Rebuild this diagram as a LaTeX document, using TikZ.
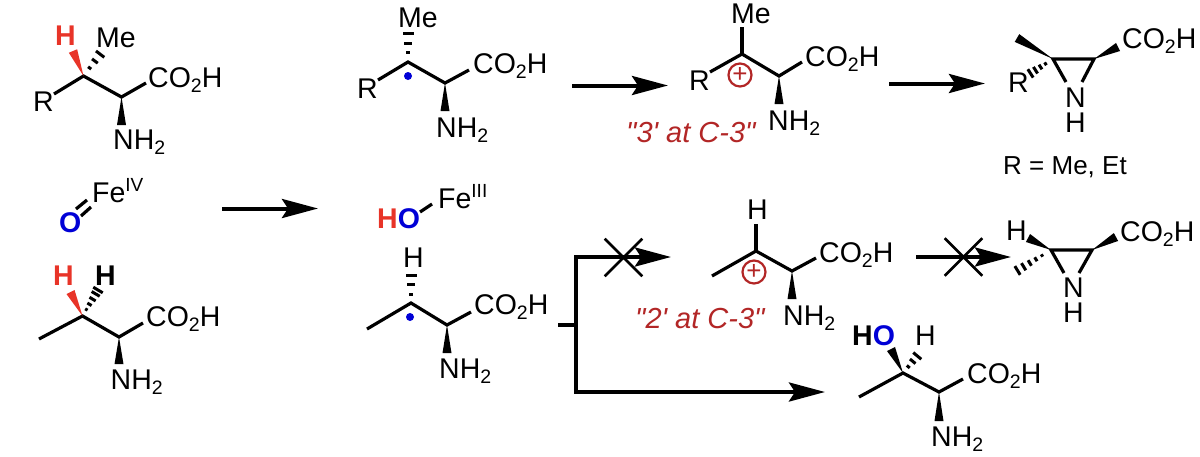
\documentclass[tikz,border=0pt]{standalone}
\usepackage{fontspec}
\setmainfont{Liberation Sans}
\newfontfamily\catfont{Liberation Sans}
\usetikzlibrary{arrows.meta,calc,shapes.misc}
\definecolor{hred}{RGB}{232,52,40}
\definecolor{oblue}{RGB}{0,0,214}
\definecolor{catred}{RGB}{178,38,38}
\newcommand{\lowt}[1]{\raisebox{-5.5pt}{\fontsize{19.5}{20}\selectfont #1}}
\newcommand{\upt}[1]{\raisebox{11pt}{\fontsize{19}{19}\selectfont #1}}
\newcommand{\cooh}{CO\lowt{2}H}
\newcommand{\nhh}{NH\lowt{2}}
\newcommand{\wedgeb}[3][black]{\fill[#1] (#2) -- ($(#3)!4.5pt!90:(#2)$) -- ($(#3)!4.5pt!-90:(#2)$) -- cycle;}
\newcommand{\hashb}[3]{\foreach \t in {#3} {
    \draw[hashbar] ($(#1)!\t!(#2)!{\t*5.5pt}!90:(#1)$) -- ($(#1)!\t!(#2)!{\t*5.5pt}!-90:(#1)$);}}
\tikzset{
  lbl/.style={inner sep=0pt,anchor=base west,font=\fontsize{28.5}{25}\selectfont},
  boldlbl/.style={lbl,font=\fontsize{28.5}{25}\selectfont\bfseries},
  cat/.style={lbl,text=catred,font=\fontsize{29}{30}\catfont\itshape},
  bond/.style={line width=3.2pt},
  hashbar/.style={line width=3pt},
  rxn/.style={line width=4pt,-{Stealth[length=36pt,width=19pt,inset=6pt]}},
  branch/.style={line width=4pt},
  plusc/.style={draw=catred,text=catred,circle,line width=2.2pt,minimum size=23pt,inner sep=0pt,font=\fontsize{26}{26}\selectfont},
  rad/.style={circle,fill=oblue,inner sep=0pt,minimum size=8pt},
  nogo/.style={cross out,draw,line width=2.6pt,minimum width=35pt,minimum height=35pt,inner sep=0pt}
}
\begin{document}
\begin{tikzpicture}[x=1pt,y=-1pt]
  \useasboundingbox (0,0) rectangle (1200,456);

  % top left substrate
  \coordinate (c3a) at (83.5,76);
  \coordinate (c2a) at (121.5,97);
  \coordinate (ra) at (54,94);
  \coordinate (acida) at (146,83);
  \coordinate (ha) at (73,51);
  \coordinate (mea) at (101,53);
  \coordinate (na) at (121.5,125);
  \node[boldlbl,text=hred] (ha lbl) at (55,45) {H};
  \node[lbl] (me a) at (96,47) {Me};
  \node[lbl] (r a) at (33,111) {R};
  \node[lbl] (co2h a) at (148,87) {\cooh};
  \node[lbl] (nh2 a) at (113,149) {\nhh};
  \draw[bond] (ra) -- (c3a) -- (c2a) -- (acida);
  \wedgeb[hred]{c3a}{ha}
  \wedgeb{c2a}{na}
  \hashb{c3a}{mea}{0.35,0.65,0.95}

  % iron oxo
  \node[boldlbl,text=oblue] (o a) at (59,232) {O};
  \node[lbl] (fe a) at (92,202) {Fe\upt{IV}};
  \coordinate (oa1) at (76,209);
  \coordinate (oa2) at (87,200);
  \coordinate (ob1) at (81,216);
  \coordinate (ob2) at (91,207);
  \draw[bond] (oa1) -- (oa2);
  \draw[bond] (ob1) -- (ob2);

  % bottom left substrate
  \coordinate (c3b) at (82.5,316);
  \coordinate (c2b) at (119,337);
  \coordinate (meb) at (39,339);
  \coordinate (acidb) at (143,323);
  \coordinate (hb) at (70.5,292);
  \coordinate (hhb) at (98,290);
  \coordinate (nb) at (119,364);
  \node[boldlbl,text=hred] (h b) at (53,285) {H};
  \node[boldlbl] (hh b) at (95,285) {H};
  \node[lbl] (co2h b) at (146,326) {\cooh};
  \node[lbl] (nh2 b) at (110.5,389) {\nhh};
  \draw[bond] (meb) -- (c3b) -- (c2b) -- (acidb);
  \wedgeb[hred]{c3b}{hb}
  \wedgeb{c2b}{nb}
  \hashb{c3b}{hhb}{0.25,0.45,0.65,0.85,1}

  % tertiary radical
  \coordinate (c3c) at (408,62);
  \coordinate (c2c) at (445,83);
  \coordinate (rc) at (378,80);
  \coordinate (acidc) at (469,70);
  \coordinate (mec) at (408,33);
  \coordinate (nc) at (445,111);
  \node[lbl] (me c) at (398,27) {Me};
  \node[lbl] (r c) at (357,98) {R};
  \node[lbl] (co2h c) at (473,73) {\cooh};
  \node[lbl] (nh2 c) at (436,137) {\nhh};
  \node[rad] (dot c) at (408,76) {};
  \draw[bond] (rc) -- (c3c) -- (c2c) -- (acidc);
  \wedgeb{c2c}{nc}
  \hashb{c3c}{mec}{0.32,0.65,1}

  % tertiary cation
  \coordinate (c3d) at (742,54);
  \coordinate (c2d) at (779,76);
  \coordinate (rd) at (710,72);
  \coordinate (acidd) at (802,62);
  \coordinate (med) at (742,27);
  \coordinate (nd) at (779,104);
  \node[lbl] (me d) at (731,23) {Me};
  \node[lbl] (r d) at (689,90) {R};
  \node[lbl] (co2h d) at (805,66) {\cooh};
  \node[lbl] (nh2 d) at (768,130) {\nhh};
  \node[plusc] (plus d) at (740,75) {+};
  \node[cat] (tert) at (626,142) {"3' at C-3"};
  \draw[bond] (rd) -- (c3d) -- (c2d) -- (acidd);
  \draw[bond] (med) -- (c3d);
  \wedgeb{c2d}{nd}

  % aziridine, R
  \coordinate (c3e) at (1053,59);
  \coordinate (c2e) at (1094,59);
  \coordinate (nle) at (1066,82);
  \coordinate (nre) at (1082,82);
  \coordinate (mee) at (1017,38);
  \coordinate (re) at (1028,75);
  \coordinate (acide) at (1118,47);
  \node[lbl] (r e) at (1008,92) {R};
  \node[lbl] (co2h e) at (1122,48) {\cooh};
  \node[lbl,align=center] (n e) at (1065,132) {N\\H};
  \node[lbl,font=\fontsize{26}{28}\selectfont] (rdef) at (1003,174) {R = Me, Et};
  \draw[bond] (nle) -- (c3e) -- (c2e) -- (nre);
  \wedgeb{c3e}{mee}
  \wedgeb{c2e}{acide}
  \hashb{c3e}{re}{0.3,0.5,0.7,0.9}

  % hydroxo iron
  \node[boldlbl] (ho) at (377,228) {\textcolor{hred}{H}\textcolor{oblue}{O}};
  \node[lbl] (fe b) at (438,208) {Fe\upt{III}};
  \coordinate (hoa) at (420,212);
  \coordinate (hob) at (432,204);
  \draw[bond] (hoa) -- (hob);

  % secondary radical
  \coordinate (c3f) at (411,303);
  \coordinate (c2f) at (447,325);
  \coordinate (mef) at (367,329);
  \coordinate (acidf) at (471,312);
  \coordinate (hf) at (411,275);
  \coordinate (nf) at (447,353);
  \node[lbl] (h f) at (403,267) {H};
  \node[lbl] (co2h f) at (474,314) {\cooh};
  \node[lbl] (nh2 f) at (439,378) {\nhh};
  \node[rad] (dot f) at (410,317) {};
  \draw[bond] (mef) -- (c3f) -- (c2f) -- (acidf);
  \wedgeb{c2f}{nf}
  \hashb{c3f}{hf}{0.32,0.65,1}

  % secondary cation
  \coordinate (c3g) at (756,251);
  \coordinate (c2g) at (792,271);
  \coordinate (meg) at (712,276);
  \coordinate (acidg) at (816,258);
  \coordinate (hg) at (756,224);
  \coordinate (ng) at (792,299);
  \node[lbl] (h g) at (747,219) {H};
  \node[lbl] (co2h g) at (819,262) {\cooh};
  \node[lbl] (nh2 g) at (783,325) {\nhh};
  \node[plusc] (plus g) at (754,272) {+};
  \node[cat] (sec) at (635,328) {"2' at C-3"};
  \draw[bond] (meg) -- (c3g) -- (c2g) -- (acidg);
  \draw[bond] (hg) -- (c3g);
  \wedgeb{c2g}{ng}

  % aziridine, not formed
  \coordinate (c3h) at (1051,250);
  \coordinate (c2h) at (1092,250);
  \coordinate (nlh) at (1064,273);
  \coordinate (nrh) at (1079,273);
  \coordinate (hh) at (1028,238);
  \coordinate (meh) at (1015,272);
  \coordinate (acidh) at (1116,237);
  \node[lbl] (h h) at (1006,240) {H};
  \node[lbl] (co2h h) at (1120,241) {\cooh};
  \node[lbl,align=center] (n h) at (1063,322) {N\\H};
  \draw[bond] (nlh) -- (c3h) -- (c2h) -- (nrh);
  \wedgeb{c3h}{hh}
  \wedgeb{c2h}{acidh}
  \hashb{c3h}{meh}{0.25,0.42,0.59,0.76,0.93}

  % threonine product
  \coordinate (c3i) at (903,373);
  \coordinate (c2i) at (939,392);
  \coordinate (mei) at (859,397);
  \coordinate (acidi) at (963,379);
  \coordinate (oi) at (891,349);
  \coordinate (hi) at (918,355);
  \coordinate (ni) at (939,421);
  \node[boldlbl] (ho i) at (852,345) {H\textcolor{oblue}{O}};
  \node[lbl] (h i) at (915,345) {H};
  \node[lbl] (co2h i) at (967,383) {\cooh};
  \node[lbl] (nh2 i) at (931,446) {\nhh};
  \draw[bond] (mei) -- (c3i) -- (c2i) -- (acidi);
  \wedgeb{c3i}{oi}
  \wedgeb{c2i}{ni}
  \hashb{c3i}{hi}{0.35,0.65,0.95}

  % reaction arrows
  \coordinate (a1s) at (222,208.5);
  \coordinate (a1e) at (318,208.5);
  \coordinate (a2s) at (572,85.5);
  \coordinate (a2e) at (668,85.5);
  \coordinate (a3s) at (889,83.5);
  \coordinate (a3e) at (985,83.5);
  \coordinate (a4s) at (916,257);
  \coordinate (a4e) at (1011,257);
  \draw[rxn] (a1s) -- (a1e);
  \draw[rxn] (a2s) -- (a2e);
  \draw[rxn] (a3s) -- (a3e);
  \draw[rxn] (a4s) -- (a4e);
  \node[nogo] (stop b) at (963.5,257) {};

  % branch
  \coordinate (stub) at (558,325);
  \coordinate (fork) at (576,325);
  \coordinate (forkt) at (576,257);
  \coordinate (forkb) at (576,392);
  \coordinate (top e) at (671,257);
  \coordinate (bot e) at (825,392);
  \draw[branch] (stub) -- (fork);
  \draw[rxn] (fork) -- (forkt) -- (top e);
  \draw[rxn] (fork) -- (forkb) -- (bot e);
  \node[nogo] (stop a) at (623.5,257.5) {};
\end{tikzpicture}
\end{document}
